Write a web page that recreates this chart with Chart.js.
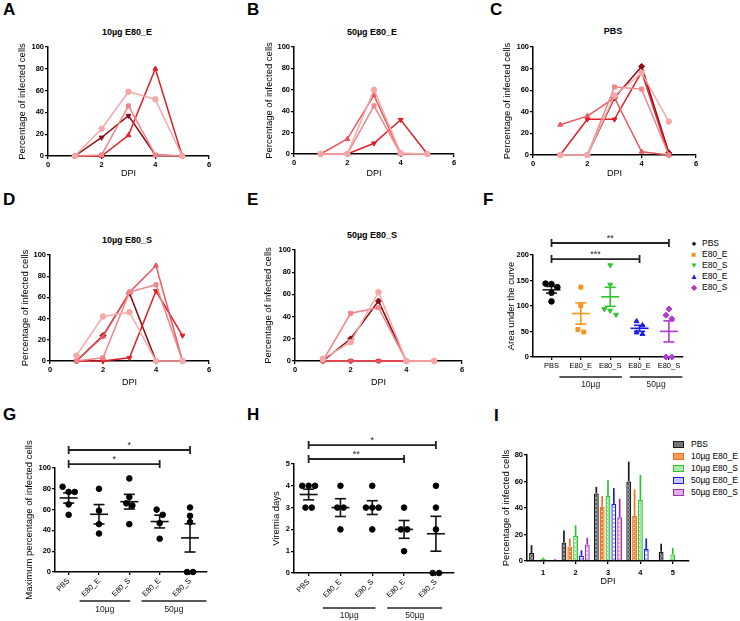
<!DOCTYPE html>
<html><head><meta charset="utf-8">
<script src="https://cdn.jsdelivr.net/npm/chart.js@4.4.1/dist/chart.umd.min.js"></script>
<style>
body{margin:0;background:#fff;width:740px;height:621px;position:relative;overflow:hidden;font-family:"Liberation Sans",Arial,sans-serif;color:#000;}
canvas{position:absolute;}
.let{position:absolute;font-weight:bold;font-size:17px;line-height:1;}
.ttl{position:absolute;font-weight:bold;font-size:9px;line-height:1;transform:translate(-50%,-50%);white-space:nowrap;}
.leg{position:absolute;font-size:8.5px;line-height:1;white-space:nowrap;}
.leg span.m{display:inline-block;width:10px;text-align:center;margin-right:3px;font-size:8px;}
.sw{display:inline-block;width:9px;height:5px;border:1.5px solid;vertical-align:middle;margin-right:7px;}
</style></head><body>
<div class="let" style="left:3px;top:1px">A</div>
<div class="let" style="left:247px;top:1px">B</div>
<div class="let" style="left:490px;top:1px">C</div>
<div class="let" style="left:3px;top:191px">D</div>
<div class="let" style="left:247px;top:191px">E</div>
<div class="let" style="left:483px;top:191px">F</div>
<div class="let" style="left:3px;top:406px">G</div>
<div class="let" style="left:247px;top:406px">H</div>
<div class="let" style="left:494px;top:407px">I</div>
<div class="ttl" style="left:127px;top:32px">10µg E80_E</div>
<div class="ttl" style="left:372px;top:32px">50µg E80_E</div>
<div class="ttl" style="left:613px;top:31px">PBS</div>
<div class="ttl" style="left:127px;top:240px">10µg E80_S</div>
<div class="ttl" style="left:372px;top:235px">50µg E80_S</div>

<div class="leg" style="left:689px;top:238px;line-height:11px">
<div><span class="m" style="color:#000">●</span>PBS</div>
<div><span class="m" style="color:#F7931E">■</span>E80_E</div>
<div><span class="m" style="color:#2EC42E">▼</span>E80_S</div>
<div><span class="m" style="color:#1A1AE6">▲</span>E80_E</div>
<div><span class="m" style="color:#B03AD0">◆</span>E80_S</div>
</div>
<div class="leg" style="left:673px;top:438px;line-height:12px">
<div><span class="sw" style="border-color:#1a1a1a;background:#777"></span>PBS</div>
<div><span class="sw" style="border-color:#F37021;background:#F79A5A"></span>10µg E80_E</div>
<div><span class="sw" style="border-color:#2EC42E;background:#A8E8A8"></span>10µg E80_S</div>
<div><span class="sw" style="border-color:#1A1AE6;background:#C8C8FF"></span>50µg E80_E</div>
<div><span class="sw" style="border-color:#9B30B0;background:#DDB0E6"></span>50µg E80_S</div>
</div>

<script>
// ---------- DATA ----------
const dpi = [1, 2, 3, 4, 5];
// A: 10µg E80_E
const a_circle = [0, 25, 59, 52, 0];
const a_square = [0, 1, 46, 1, 0];
const a_triUp = [0, 0, 19, 80, 0];
const a_triDown = [0, 17, 37, 1, 0];
// B: 50µg E80_E
const b_circle = [0, 0, 60, 1, 0];
const b_square = [0, 0, 45, 0, 0];
const b_triUp = [0, 14, 55, 0, 0];
const b_triDown = [0, 0, 10, 32, 0];
// C: PBS
const c_circle = [0, 0, 55, 76, 31];
const c_square = [0, 0, 63, 61, 0];
const c_triUp = [28, 36, 53, 3, 0];
const c_triDown = [0, 33, 33, 77, 0];
const c_diamond = [0, 0, 53, 82, 2];
// D: 10µg E80_S
const d_circle = [5, 42, 46, 0, 0];
const d_square = [0, 3, 65, 72, 0];
const d_triUp = [0, 23, 65, 90, 0];
const d_triDown = [0, 0, 3, 66, 24];
const d_diamond = [0, 24, 64, 0, 0];
// E: 50µg E80_S
const e_circle = [2, 17, 62, 0, 0];
const e_square = [0, 43, 48, 0, 0];
const e_triUp = [0, 0, 0, 0, 0];
const e_triDown = [0, 0, 0, 0, 0];
const e_diamond = [0, 20, 54, 0, 0];

// F/G/H groups
const groupNames = ['PBS', 'E80_E', 'E80_S', 'E80_E', 'E80_S'];
const auc_PBS = [143, 137, 144, 126, 109];
const auc_10E = [137, 101, 54, 49];
const auc_10S = [180, 142, 94, 91, 83];
const auc_50E = [70, 62, 48, 45];
const auc_50S = [94, 82, 75, 0, 0];

const max_PBS = [82, 77, 77, 65, 55];
const max_10E = [80, 59, 46, 37];
const max_10S = [90, 72, 66, 64, 46];
const max_50E = [60, 55, 47, 32];
const max_50S = [62, 54, 48, 0, 0];

const vir_PBS = [4, 4, 4, 3, 3];
const vir_10E = [4, 3, 3, 2];
const vir_10S = [4, 3, 3, 3, 2];
const vir_50E = [3, 2, 2, 1];
const vir_50S = [4, 3, 2, 0, 0];

// I: bars (mean) and SEM
const dayLabels = ['1', '2', '3', '4', '5'];
const bar_PBS = [6, 14, 51, 60, 7];
const sem_PBS = [6, 9, 5, 15, 6];
const bar_10E = [0, 11, 41, 34, 0];
const sem_10E = [0, 6, 8, 20, 0];
const bar_10S = [1.5, 19, 49, 46, 5];
const sem_10S = [1, 8, 12, 19, 5];
const bar_50E = [0, 4, 43, 9, 0];
const sem_50E = [0, 4, 12, 8, 0];
const bar_50S = [1, 12.5, 33, 0.5, 0];
const sem_50S = [0.5, 5, 14, 0, 0];

// ---------- HELPERS ----------
const FF = '"Liberation Sans", Arial, sans-serif';
const P1 = '#F6A8A8', P2 = '#F0868A', P3 = '#E9565C', P4 = '#DE1F27', P5 = '#8E0A10';

function mkCanvas(x, y, w, h) {
  const c = document.createElement('canvas');
  c.width = w; c.height = h;
  c.style.left = x + 'px'; c.style.top = y + 'px';
  c.style.width = w + 'px'; c.style.height = h + 'px';
  document.body.appendChild(c);
  return c;
}
function gridOpt() {
  return { display: true, drawOnChartArea: false, drawTicks: true, tickLength: 3, color: '#000', lineWidth: 1.3 };
}
function border() { return { display: true, color: '#000', width: 1.5 }; }
function yLin(min, max, step, title, width) {
  return {
    type: 'linear', min, max,
    ticks: { stepSize: step, color: '#000', font: { family: FF, size: 7.5, weight: 'bold' }, padding: 1 },
    grid: gridOpt(), border: border(),
    title: { display: true, text: title, color: '#000', font: { family: FF, size: 9.5 }, padding: 0 },
    afterFit(s) { s.width = width; }
  };
}
const mean = a => a.reduce((s, v) => s + v, 0) / a.length;
const sem = a => { const m = mean(a); return Math.sqrt(a.reduce((s, v) => s + (v - m) ** 2, 0) / (a.length - 1) / a.length); };
function jitter(vals, thr, step) {
  const idx = vals.map((v, i) => i).sort((a, b) => vals[b] - vals[a]);
  const off = new Array(vals.length).fill(0);
  let cl = [idx[0]];
  const flush = () => cl.forEach((k, j) => off[k] = (j - (cl.length - 1) / 2) * step);
  for (let j = 1; j < idx.length; j++) {
    if (vals[cl[cl.length - 1]] - vals[idx[j]] < thr) cl.push(idx[j]);
    else { flush(); cl = [idx[j]]; }
  }
  flush();
  return off;
}

const annot = {
  id: 'annot',
  afterDraw(chart, args, o) {
    const { ctx, scales: { x, y } } = chart;
    ctx.save();
    ctx.strokeStyle = '#222'; ctx.fillStyle = '#222';
    (o.brackets || []).forEach(b => {
      const x1 = x.getPixelForValue(b.from), x2 = x.getPixelForValue(b.to), yy = y.getPixelForValue(b.y);
      ctx.lineWidth = 1.8;
      ctx.beginPath();
      ctx.moveTo(x1, yy); ctx.lineTo(x2, yy);
      ctx.moveTo(x1, yy - 4); ctx.lineTo(x1, yy + 4);
      ctx.moveTo(x2, yy - 4); ctx.lineTo(x2, yy + 4);
      ctx.stroke();
      ctx.font = '9px ' + FF; ctx.textAlign = 'center'; ctx.textBaseline = 'alphabetic';
      ctx.fillText(b.text, (x1 + x2) / 2, yy - 2);
    });
    (o.groups || []).forEach(g => {
      const x1 = x.getPixelForValue(g.from), x2 = x.getPixelForValue(g.to), yy = chart.chartArea.bottom + o.lineOff;
      ctx.lineWidth = 1.3;
      ctx.beginPath(); ctx.moveTo(x1, yy); ctx.lineTo(x2, yy); ctx.stroke();
      ctx.font = '8.5px ' + FF; ctx.textAlign = 'center'; ctx.textBaseline = 'middle';
      ctx.fillText(g.text, (x1 + x2) / 2, chart.chartArea.bottom + o.textOff);
    });
    ctx.restore();
  }
};

// ---------- LINE PANELS ----------
function linePanel(b, series) {
  const cx = Math.round(b.yt - 5.7), cy = b.T - 8;
  const ch = Math.round(b.xt + 5.4) - cy, cw = b.R + 8 - cx;
  const c = mkCanvas(cx, cy, cw, ch);
  new Chart(c, {
    type: 'line',
    data: {
      datasets: series.map(s => ({
        data: dpi.map((d, i) => ({ x: d, y: s.v[i] })),
        borderColor: s.c, backgroundColor: s.c, pointBackgroundColor: s.c, pointBorderColor: s.c,
        pointStyle: s.p, rotation: s.r || 0, pointRadius: s.p === 'rectRot' ? 3 : 2.8,
        pointBorderWidth: 1, borderWidth: 1.5, clip: false, tension: 0
      }))
    },
    options: {
      responsive: false, animation: false, events: [],
      layout: { padding: { top: 8, right: 8, bottom: 0, left: 0 } },
      plugins: { legend: { display: false }, tooltip: { enabled: false } },
      scales: {
        x: {
          type: 'linear', min: 0, max: 6,
          ticks: { stepSize: 2, color: '#000', font: { family: FF, size: 7.5, weight: 'bold' }, padding: 1.5 },
          grid: gridOpt(), border: border(),
          title: { display: true, text: 'DPI', color: '#000', font: { family: FF, size: 9 }, padding: 0 },
          afterFit(s) { s.height = cy + ch - b.B; }
        },
        y: yLin(0, 100, 20, 'Percentage of infected cells', b.L - cx)
      }
    }
  });
}

linePanel({ L: 48, T: 47, R: 209, B: 156, yt: 23, xt: 174 }, [
  { v: a_circle, c: P1, p: 'circle' }, { v: a_square, c: P2, p: 'rect' },
  { v: a_triUp, c: P4, p: 'triangle' }, { v: a_triDown, c: P5, p: 'triangle', r: 180 }]);
linePanel({ L: 294, T: 47, R: 454, B: 154, yt: 270, xt: 174 }, [
  { v: b_circle, c: P1, p: 'circle' }, { v: b_square, c: P2, p: 'rect' },
  { v: b_triUp, c: P3, p: 'triangle' }, { v: b_triDown, c: P4, p: 'triangle', r: 180 }]);
linePanel({ L: 533, T: 47, R: 696, B: 155, yt: 508, xt: 174 }, [
  { v: c_circle, c: P1, p: 'circle' }, { v: c_square, c: P2, p: 'rect' },
  { v: c_triUp, c: P3, p: 'triangle' }, { v: c_triDown, c: P4, p: 'triangle', r: 180 },
  { v: c_diamond, c: P5, p: 'rectRot' }]);
linePanel({ L: 50, T: 255, R: 209, B: 361, yt: 26, xt: 383 }, [
  { v: d_circle, c: P1, p: 'circle' }, { v: d_square, c: P2, p: 'rect' },
  { v: d_triUp, c: P3, p: 'triangle' }, { v: d_triDown, c: P4, p: 'triangle', r: 180 },
  { v: d_diamond, c: P5, p: 'rectRot' }]);
linePanel({ L: 295, T: 250, R: 462, B: 361, yt: 269, xt: 383 }, [
  { v: e_circle, c: P1, p: 'circle' }, { v: e_square, c: P2, p: 'rect' },
  { v: e_triUp, c: P3, p: 'triangle' }, { v: e_triDown, c: P4, p: 'triangle', r: 180 },
  { v: e_diamond, c: P5, p: 'rectRot' }]);

// ---------- DOT PANELS ----------
function dotPanel(b, groups) {
  const cx = Math.round(b.yt - 5.7), cy = b.top;
  const ch = b.bottom - cy, cw = b.R + 6 - cx;
  const c = mkCanvas(cx, cy, cw, ch);
  const range = b.ymax - b.ymin;
  const ds = [];
  groups.forEach((g, i) => {
    const off = jitter(g.v, 0.055 * range, 0.2);
    const m = mean(g.v), s = sem(g.v);
    ds.push({ data: g.v.map((v, k) => ({ x: i + off[k], y: v })), pointStyle: g.p, rotation: g.r || 0,
      pointRadius: g.rad || 2.8, pointBackgroundColor: g.c, pointBorderColor: g.c, pointBorderWidth: 1, showLine: false, clip: false });
    ds.push({ data: [{ x: i, y: m - s }, { x: i, y: m + s }], showLine: true, borderColor: g.mc, borderWidth: 1.6,
      pointStyle: 'line', pointRadius: 5.5, pointBorderColor: g.mc, pointBorderWidth: 1.6, clip: false });
    ds.push({ data: [{ x: i, y: m }], showLine: false, pointStyle: 'line', pointRadius: 9,
      pointBorderColor: g.mc, pointBorderWidth: 1.6, clip: false });
  });
  new Chart(c, {
    type: 'scatter',
    data: { datasets: ds },
    options: {
      responsive: false, animation: false, events: [],
      layout: { padding: { top: b.T - cy, right: 6, bottom: 0, left: 0 } },
      plugins: { legend: { display: false }, tooltip: { enabled: false }, annot: b.annot },
      scales: {
        x: {
          type: 'linear', min: b.xmin, max: b.xmax,
          afterBuildTicks(s) { s.ticks = groupNames.map((n, i) => ({ value: i })); },
          ticks: { autoSkip: false, color: '#000', font: { family: FF, size: 7.5 }, padding: 1.5,
            maxRotation: b.rot, minRotation: b.rot, callback: v => groupNames[v] },
          grid: gridOpt(), border: border(),
          afterFit(s) { s.height = cy + ch - b.B; }
        },
        y: yLin(b.ymin, b.ymax, b.step, b.ytitle, b.L - cx)
      }
    },
    plugins: [annot]
  });
}

const gBase = (arrs, col) => [
  { v: arrs[0], c: col[0], mc: col[0] === '#000' ? '#222' : col[0], p: 'circle' },
  { v: arrs[1], c: col[1], mc: col[1], p: 'rect' },
  { v: arrs[2], c: col[2], mc: col[2], p: 'triangle', r: 180 },
  { v: arrs[3], c: col[3], mc: col[3], p: 'triangle' },
  { v: arrs[4], c: col[4], mc: col[4], p: 'rectRot', rad: 3 }];

dotPanel({ L: 533, T: 255, R: 687, B: 357, yt: 512, top: 222, bottom: 392, xmin: -0.63, xmax: 4.46,
  ymin: 0, ymax: 200, step: 50, ytitle: 'Area under the curve', rot: 0,
  annot: { brackets: [{ from: 0, to: 4, y: 223.5, text: '**' }, { from: 0, to: 3, y: 192, text: '***' }],
    groups: [{ from: 0.27, to: 2.4, text: '10µg' }, { from: 2.67, to: 4.46, text: '50µg' }], lineOff: 20, textOff: 28 } },
  gBase([auc_PBS, auc_10E, auc_10S, auc_50E, auc_50S], ['#000', '#F7931E', '#2EC42E', '#1A1AE6', '#B03AD0']));

const gBlack = arrs => arrs.map(a => ({ v: a, c: '#000', mc: '#111', p: 'circle' }));

dotPanel({ L: 55, T: 468, R: 211, B: 572, yt: 30, top: 436, bottom: 617, xmin: -0.45, xmax: 4.54,
  ymin: 0, ymax: 100, step: 20, ytitle: 'Maximum percentage of infected cells', rot: 45,
  annot: { brackets: [{ from: 0, to: 4, y: 117.3, text: '*' }, { from: 0, to: 3, y: 103.8, text: '*' }],
    groups: [{ from: 0.36, to: 2.03, text: '10µg' }, { from: 2.4, to: 4.54, text: '50µg' }], lineOff: 29, textOff: 38 } },
  gBlack([max_PBS, max_10E, max_10S, max_50E, max_50S]));

dotPanel({ L: 294, T: 464, R: 458, B: 573, yt: 277, top: 430, bottom: 621, xmin: -0.46, xmax: 4.55,
  ymin: 0, ymax: 5, step: 1, ytitle: 'Viremia days', rot: 45,
  annot: { brackets: [{ from: 0, to: 4, y: 5.87, text: '*' }, { from: 0, to: 3, y: 5.23, text: '**' }],
    groups: [{ from: 0.45, to: 2.1, text: '10µg' }, { from: 2.47, to: 4.2, text: '50µg' }], lineOff: 35, textOff: 43 } },
  gBlack([vir_PBS, vir_10E, vir_10S, vir_50E, vir_50S]));

// ---------- BAR PANEL (I) ----------
function pat(bg, fg, kind) {
  const p = document.createElement('canvas'); p.width = p.height = 4;
  const g = p.getContext('2d');
  g.fillStyle = bg; g.fillRect(0, 0, 4, 4); g.fillStyle = fg;
  if (kind === 'check') { g.fillRect(0, 0, 2, 2); g.fillRect(2, 2, 2, 2); }
  else if (kind === 'dots') { g.fillRect(0, 0, 2, 1); g.fillRect(2, 2, 2, 1); }
  else if (kind === 'grid') { g.fillRect(1, 1, 2, 2); }
  else if (kind === 'hl') { g.fillRect(0, 1, 4, 2); }
  return p.getContext('2d').createPattern(p, 'repeat');
}
const barErrs = [sem_PBS, sem_10E, sem_10S, sem_50E, sem_50S];
const errPlugin = {
  id: 'err',
  afterDatasetsDraw(chart) {
    const { ctx } = chart, y = chart.scales.y;
    chart.data.datasets.forEach((ds, di) => {
      const meta = chart.getDatasetMeta(di);
      meta.data.forEach((el, k) => {
        const e = barErrs[di][k];
        if (!(e > 0)) return;
        const top = y.getPixelForValue(ds.data[k] + e);
        ctx.save(); ctx.strokeStyle = ds.borderColor; ctx.lineWidth = 1.7;
        ctx.beginPath(); ctx.moveTo(el.x, el.y); ctx.lineTo(el.x, top); ctx.stroke(); ctx.restore();
      });
    });
  }
};
(function () {
  const b = { L: 527, T: 455, R: 689, B: 561, yt: 507, xt: 582 };
  const cx = Math.round(b.yt - 5.7), cy = b.T - 8;
  const ch = Math.round(b.xt + 5.4) - cy, cw = b.R + 4 - cx;
  const c = mkCanvas(cx, cy, cw, ch);
  const mk = (label, data, bc, bg) => ({ label, data, borderColor: bc, backgroundColor: bg, borderWidth: 1.3,
    categoryPercentage: 0.9, barPercentage: 0.84 });
  new Chart(c, {
    type: 'bar',
    data: {
      labels: dayLabels,
      datasets: [
        mk('PBS', bar_PBS, '#1a1a1a', pat('#555', '#999', 'check')),
        mk('10µg E80_E', bar_10E, '#F37021', pat('#F47A2A', '#FFD8B8', 'dots')),
        mk('10µg E80_S', bar_10S, '#2EC42E', pat('#9CE29C', '#E8FFE8', 'grid')),
        mk('50µg E80_E', bar_50E, '#1A1AE6', pat('#B8B8FF', '#FFFFFF', 'hl')),
        mk('50µg E80_S', bar_50S, '#9B30B0', pat('#D7A6E2', '#F5E6F8', 'grid'))
      ]
    },
    options: {
      responsive: false, animation: false, events: [],
      layout: { padding: { top: 8, right: 4, bottom: 0, left: 0 } },
      plugins: { legend: { display: false }, tooltip: { enabled: false } },
      scales: {
        x: {
          type: 'category', offset: true,
          ticks: { color: '#000', font: { family: FF, size: 7.5, weight: 'bold' }, padding: 4 },
          grid: Object.assign(gridOpt(), { offset: false }), border: border(),
          title: { display: true, text: 'DPI', color: '#000', font: { family: FF, size: 9 }, padding: 0 },
          afterFit(s) { s.height = cy + ch - b.B; }
        },
        y: yLin(0, 80, 20, 'Percentage of infected cells', b.L - cx)
      }
    },
    plugins: [errPlugin]
  });
})();
</script>
</body></html>
